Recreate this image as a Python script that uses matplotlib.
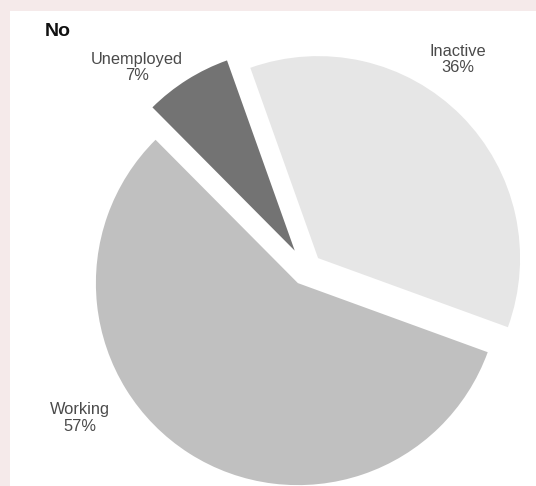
import matplotlib
matplotlib.use("Agg")
import matplotlib.pyplot as plt
from matplotlib.patches import Rectangle

plt.rcParams['font.family'] = ['Liberation Sans', 'DejaVu Sans']

# economic status of respondents who answered "No"
categories = ['Inactive', 'Unemployed', 'Working']
shares = [36, 7, 57]
slice_colors = ['#e6e6e6', '#737373', '#c0c0c0']
explode = [0.08, 0.11, 0.08]

# where each label block sits (pie radius = 1)
label_xy = [(0.75, 1.04), (-0.84, 1.00), (-1.12, -0.735)]

W, H = 536, 486
R_PX = 202.0          # pie radius in pixels
CX, CY = 306.6, 269.5 # pie centre in pixels (from top-left)

fig = plt.figure(figsize=(W / 100, H / 100), dpi=100)
fig.patch.set_facecolor('#f5eaea')

# white card behind the chart
fig.patches.append(Rectangle((10 / W, 0), 1, 1 - 11 / H, transform=fig.transFigure,
                             facecolor='white', edgecolor='none', zorder=-1))

ax = fig.add_axes([0, 0, 1, 1])
ax.set_facecolor('none')

ax.pie(shares, colors=slice_colors, explode=explode, startangle=-20,
       counterclock=True, radius=1, wedgeprops=dict(linewidth=0))

ax.set_xlim(-CX / R_PX, (W - CX) / R_PX)
ax.set_ylim(-(H - CY) / R_PX, CY / R_PX)
ax.set_aspect('equal')
ax.axis('off')

for name, val, (lx, ly) in zip(categories, shares, label_xy):
    ax.text(lx, ly, f"{name}\n{val}%", ha='center', va='center',
            fontsize=11.8, color='#4a4a4a', linespacing=1.1)

fig.text(45 / W, 1 - 31 / H, "No", ha='left', va='center',
         fontsize=14, fontweight='bold', color='#111111')

fig.savefig('out.png', dpi=100, facecolor=fig.get_facecolor())
